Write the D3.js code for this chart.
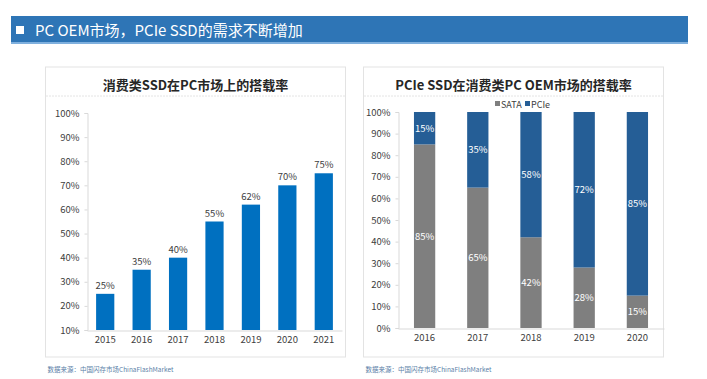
<!DOCTYPE html>
<html><head><meta charset="utf-8">
<script src="https://cdn.jsdelivr.net/npm/d3@7"></script>
<style>body{margin:0;background:#fff;font-family:"Noto Sans CJK SC","Noto Sans",sans-serif;}</style>
</head><body>
<svg id="c" width="707" height="379"></svg>
<script>
const headerTitle = "PC OEM市场，PCIe SSD的需求不断增加";
const leftTitle = "消费类SSD在PC市场上的搭载率";
const leftYears = ["2015","2016","2017","2018","2019","2020","2021"];
const leftValues = [25,35,40,55,62,70,75];
const leftTicks = [10,20,30,40,50,60,70,80,90,100];
const rightTitle = "PCIe SSD在消费类PC OEM市场的搭载率";
const rightYears = ["2016","2017","2018","2019","2020"];
const sataValues = [85,65,42,28,15];
const pcieValues = [15,35,58,72,85];
const rightTicks = [0,10,20,30,40,50,60,70,80,90,100];
const seriesNames = ["SATA","PCIe"];
const sourceText = "数据来源：中国闪存市场ChinaFlashMarket";

const svg = d3.select("#c");
const font = '"Noto Sans CJK SC","Noto Sans",sans-serif';

// header
svg.append("rect").attr("x",11).attr("y",16).attr("width",677).attr("height",27).attr("fill","#2E75B6");
svg.append("rect").attr("x",11).attr("y",42).attr("width",677).attr("height",2).attr("fill","#7FB0DE");
svg.append("rect").attr("x",16).attr("y",26).attr("width",8).attr("height",8).attr("fill","#fff");
svg.append("text").attr("x",35).attr("y",35.5).attr("fill","#fff").attr("font-size",15).attr("font-family",font).text(headerTitle);

function panel(x0, x1, title){
  svg.append("rect").attr("x",x0).attr("y",67).attr("width",x1-x0).attr("height",290).attr("fill","#fff").attr("stroke","#e3e3e3").attr("stroke-width",1);
  svg.append("text").attr("x",(x0+x1)/2).attr("y",90).attr("text-anchor","middle").attr("font-size",13).attr("font-weight","bold").attr("fill","#262626").attr("font-family",font).text(title);
  svg.append("line").attr("x1",x0+1).attr("x2",x1-1).attr("y1",96).attr("y2",96).attr("stroke","#c8c8c8").attr("stroke-dasharray","1,2");
  svg.append("text").attr("x",x0+2).attr("y",372).attr("font-size",6.5).attr("fill","#5b7fa8").attr("font-family",font).text(sourceText);
}
panel(45.5,345.5,leftTitle);
panel(363.5,663.5,rightTitle);

// left chart
{
  const x = d3.scaleBand().domain(leftYears).range([87,342]).paddingInner(0.5).paddingOuter(0.25);
  const y = d3.scaleLinear().domain([10,100]).range([330,113]);
  const g = svg.append("g");
  const ya = g.append("g").attr("transform","translate(87.5,0)").call(d3.axisLeft(y).tickValues(leftTicks).tickFormat(d=>d+"%").tickSize(3));
  ya.select(".domain").attr("stroke","#d9d9d9");
  ya.selectAll(".tick line").attr("stroke","#d9d9d9");
  ya.selectAll("text").attr("font-size",9.5).attr("fill","#404040").attr("font-family",font).attr("dx",-2);
  const xa = g.append("g").attr("transform","translate(0,330.5)").call(d3.axisBottom(x).tickSize(0));
  xa.select(".domain").attr("stroke","#d9d9d9");
  xa.selectAll("text").attr("font-size",9.5).attr("fill","#404040").attr("font-family",font).attr("dy","0.95em");
  g.selectAll(".bar").data(leftValues).join("rect")
    .attr("x",(d,i)=>x(leftYears[i])).attr("width",x.bandwidth())
    .attr("y",d=>y(d)).attr("height",d=>y(10)-y(d)).attr("fill","#0070C0");
  g.selectAll(".lbl").data(leftValues).join("text")
    .attr("x",(d,i)=>x(leftYears[i])+x.bandwidth()/2).attr("y",d=>y(d)-5)
    .attr("text-anchor","middle").attr("font-size",9.5).attr("fill","#404040").attr("font-family",font).text(d=>d+"%");
}

// right chart
{
  const x = d3.scaleBand().domain(rightYears).range([398,664]).paddingInner(0.6).paddingOuter(0.3);
  const y = d3.scaleLinear().domain([0,100]).range([328,112]);
  const g = svg.append("g");
  const ya = g.append("g").attr("transform","translate(398.5,0)").call(d3.axisLeft(y).tickValues(rightTicks).tickFormat(d=>d+"%").tickSize(3));
  ya.select(".domain").attr("stroke","#d9d9d9");
  ya.selectAll(".tick line").attr("stroke","#d9d9d9");
  ya.selectAll("text").attr("font-size",9.5).attr("fill","#404040").attr("font-family",font).attr("dx",-2);
  const xa = g.append("g").attr("transform","translate(0,328.5)").call(d3.axisBottom(x).tickSize(0));
  xa.select(".domain").attr("stroke","#d9d9d9");
  xa.selectAll("text").attr("font-size",9.5).attr("fill","#404040").attr("font-family",font).attr("dy","0.95em");
  const colors = ["#7F7F7F","#255E96"];
  const rows = rightYears.map((yr,i)=>({year:yr, SATA:sataValues[i], PCIe:pcieValues[i]}));
  const stack = d3.stack().keys(seriesNames)(rows);
  stack.forEach((s,k)=>{
    g.selectAll(".s"+k).data(s).join("rect")
      .attr("x",d=>x(d.data.year)).attr("width",x.bandwidth())
      .attr("y",d=>y(d[1])).attr("height",d=>y(d[0])-y(d[1])).attr("fill",colors[k]);
    g.selectAll(".t"+k).data(s).join("text")
      .attr("x",d=>x(d.data.year)+x.bandwidth()/2).attr("y",d=>y((d[0]+d[1])/2)+3.5)
      .attr("text-anchor","middle").attr("font-size",9.5).attr("fill","#fff").attr("font-family",font)
      .text(d=>(d[1]-d[0])+"%");
  });
  // legend
  const lg = g.append("g");
  const items = [{n:"SATA",x:495},{n:"PCIe",x:525}];
  items.forEach((it,k)=>{
    lg.append("rect").attr("x",it.x).attr("y",101).attr("width",5).attr("height",5).attr("fill",colors[k]);
    lg.append("text").attr("x",it.x+6).attr("y",107.5).attr("font-size",9).attr("fill","#404040").attr("font-family",font).text(it.n);
  });
}
</script>
</body></html>
